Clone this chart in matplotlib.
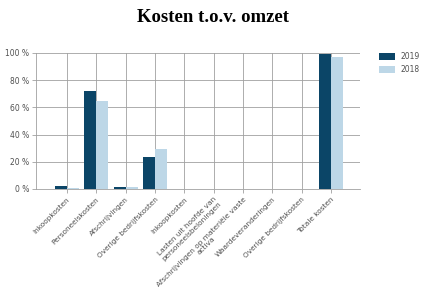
import numpy as np
import matplotlib
matplotlib.use("Agg")
import matplotlib.pyplot as plt

categories = ["Inkoopkosten", "Personeelskosten", "Afschrijvingen",
              "Overige bedrijfskosten", "Inkoopkosten",
              "Lasten uit hoofde van\npersoneelsbeloningen",
              "Afschrijvingen op materiële vaste\nactiva",
              "Waardeveranderingen", "Overige bedrijfskosten", "Totale kosten"]
v2019 = [2.5, 72.0, 1.5, 23.5, 0, 0, 0, 0, 0, 99.0]
v2018 = [0.8, 64.5, 1.2, 29.5, 0, 0, 0, 0, 0, 97.0]
yticks = [0, 20, 40, 60, 80, 100]

fig = plt.figure(figsize=(4.26, 2.87), dpi=100)
ax = fig.add_axes([36 / 426, 1 - 189 / 287, 324 / 426, 136 / 287])

x = np.arange(len(categories))
w = 0.41
ax.bar(x - w / 2, v2019, w, color="#0b4567", label="2019", zorder=3)
ax.bar(x + w / 2, v2018, w, color="#bdd7e7", label="2018", zorder=3)

ax.set_xlim(-1.05, 9.98)
ax.set_ylim(0, 100)
ax.set_yticks(yticks)
ax.set_yticklabels([f"{t} %" for t in yticks], fontsize=5.5, color="#505050")
ax.set_xticks(x)
ax.set_xticklabels(categories, rotation=45, ha="right", rotation_mode="anchor",
                   fontsize=5.3, color="#505050", linespacing=1.0,
                   multialignment="center")
ax.grid(True, color="#a0a0a0", lw=0.6, zorder=0)
for s in ["top", "right"]:
    ax.spines[s].set_visible(False)
ax.spines["left"].set_color("#a0a0a0")
ax.spines["bottom"].set_color("#a0a0a0")
ax.spines["left"].set_linewidth(0.6)
ax.spines["bottom"].set_linewidth(0.6)
ax.tick_params(length=3, width=0.6, color="#a0a0a0", pad=2)

fig.text(0.5, 1 - 18 / 287, "Kosten t.o.v. omzet", ha="center", va="center",
         fontsize=13.5, fontweight="bold", family="Liberation Serif")

ax.legend(loc="upper left", bbox_to_anchor=(1.05, 1.03), frameon=False,
          fontsize=5.5, handlelength=2.0, handleheight=1.1, labelcolor="#505050",
          borderaxespad=0, labelspacing=0.5)

fig.savefig("out.png", dpi=100)
